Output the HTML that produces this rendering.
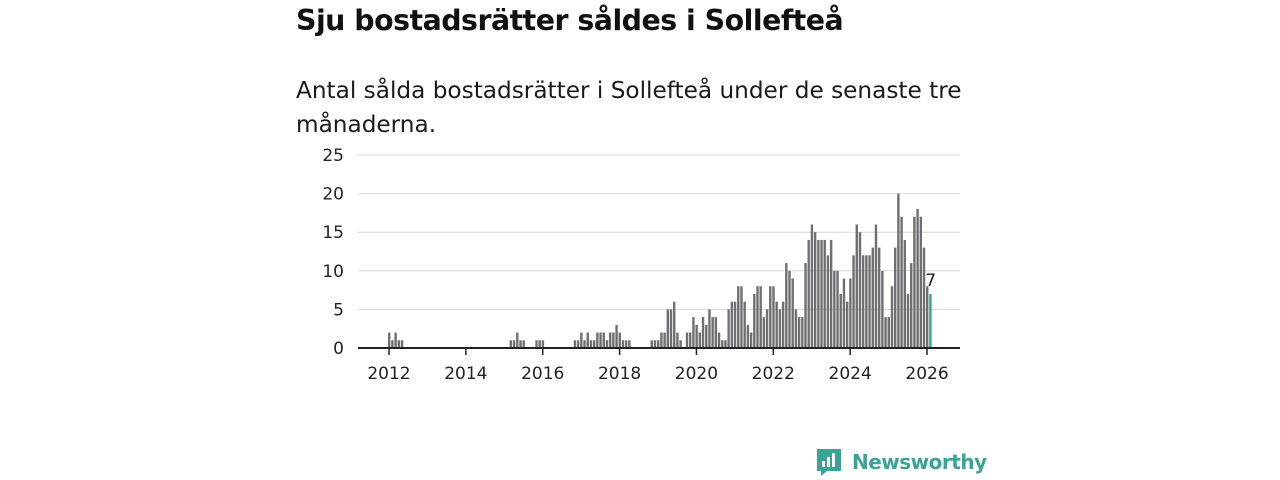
<!DOCTYPE html>
<html><head><meta charset="utf-8"><style>
body{margin:0;width:1280px;height:480px;background:#fff;font-family:"Liberation Sans",sans-serif;color:#111;overflow:hidden}
h1{position:absolute;left:296px;top:4px;margin:0;font-size:28.4px;font-weight:bold;font-family:"DejaVu Sans","Liberation Sans",sans-serif;letter-spacing:-0.5px}
p{position:absolute;left:296px;top:74px;margin:0;width:700px;font-size:23.2px;line-height:34px;font-family:"DejaVu Sans","Liberation Sans",sans-serif;color:#1a1a1a}
svg{position:absolute;left:0;top:0}
</style></head><body>
<h1>Sju bostadsrätter såldes i Sollefteå</h1>
<p>Antal sålda bostadsrätter i Sollefteå under de senaste tre månaderna.</p>
<svg id="c" width="1280" height="480"></svg>
<script>
const startYear=2012;
const values=[2,1,2,1,1,0,0,0,0,0,0,0,
0,0,0,0,0,0,0,0,0,0,0,0,
0,0,0,0,0,0,0,0,0,0,0,0,
0,0,1,1,2,1,1,0,0,0,1,1,
1,0,0,0,0,0,0,0,0,0,1,1,
2,1,2,1,1,2,2,2,1,2,2,3,
2,1,1,1,0,0,0,0,0,0,1,1,1,
2,2,5,5,6,2,1,0,2,2,4,3,
2,4,3,5,4,4,2,1,1,5,6,6,
8,8,6,3,2,7,8,8,4,5,8,8,
6,5,6,11,10,9,5,4,4,11,14,16,
15,14,14,14,12,14,10,10,7,9,6,9,
12,16,15,12,12,12,13,16,13,10,4,4,
8,13,20,17,14,7,11,17,18,17,13,8,
7];
const yTicks=[0,5,10,15,20,25];
const xTicks=[2012,2014,2016,2018,2020,2022,2024,2026];
const NS="http://www.w3.org/2000/svg",svg=document.getElementById('c');
const x=t=>389+(t-2012)*38.43;
const y=v=>348-v*7.72;
function mk(tag,a){const e=document.createElementNS(NS,tag);for(const k in a)e.setAttribute(k,a[k]);svg.appendChild(e);return e;}
yTicks.forEach(v=>{
 const l=mk('line',{x1:358,x2:960,y1:y(v),y2:y(v),stroke:'#d9d9d9','stroke-width':1});
 
 
 const t=mk('text',{x:344,y:y(v)+6,'text-anchor':'end','font-size':17,fill:'#222','font-family':'DejaVu Sans,Liberation Sans,sans-serif'});
 t.textContent=v;
 
 
});
values.forEach((v,i)=>{
 const t=startYear+i/12, last=i===values.length-1;
 const r=mk('rect',{x:x(t)-1,y:y(v),width:2.4,height:v*7.72,fill:last?'#2aa898':'#6e6e73'});
 
 
 if(last){const lb=mk('text',{x:x(t)+0.5,y:y(v)-8,'text-anchor':'middle','font-size':17,fill:'#222','font-family':'DejaVu Sans,sans-serif'});lb.textContent=v;
 
 }
});
const ax=mk('line',{x1:358,x2:960,y1:348,y2:348,stroke:'#222','stroke-width':2});


xTicks.forEach(yr=>{
 const tk=mk('line',{x1:x(yr),x2:x(yr),y1:348,y2:355,stroke:'#222','stroke-width':1.5});
 
 
 const t=mk('text',{x:x(yr),y:379,'text-anchor':'middle','font-size':17,fill:'#222','font-family':'DejaVu Sans,Liberation Sans,sans-serif'});
 t.textContent=yr;
 
 
});
</script>
<div style="position:absolute;left:815px;top:447px;display:flex;align-items:center">
<svg width="28" height="30" style="position:static"><path d="M2 2h24v22H12l-6 5v-5H2z" fill="#3aa396"/><rect x="7" y="14" width="3" height="6" fill="#fff"/><rect x="12" y="10" width="3" height="10" fill="#fff"/><rect x="17" y="6" width="3" height="14" fill="#fff"/></svg>
<span style="margin-left:9px;font-size:20px;color:#3aa396;font-family:'DejaVu Sans',sans-serif;font-weight:bold;letter-spacing:-0.5px">Newsworthy</span></div>
</body></html>
